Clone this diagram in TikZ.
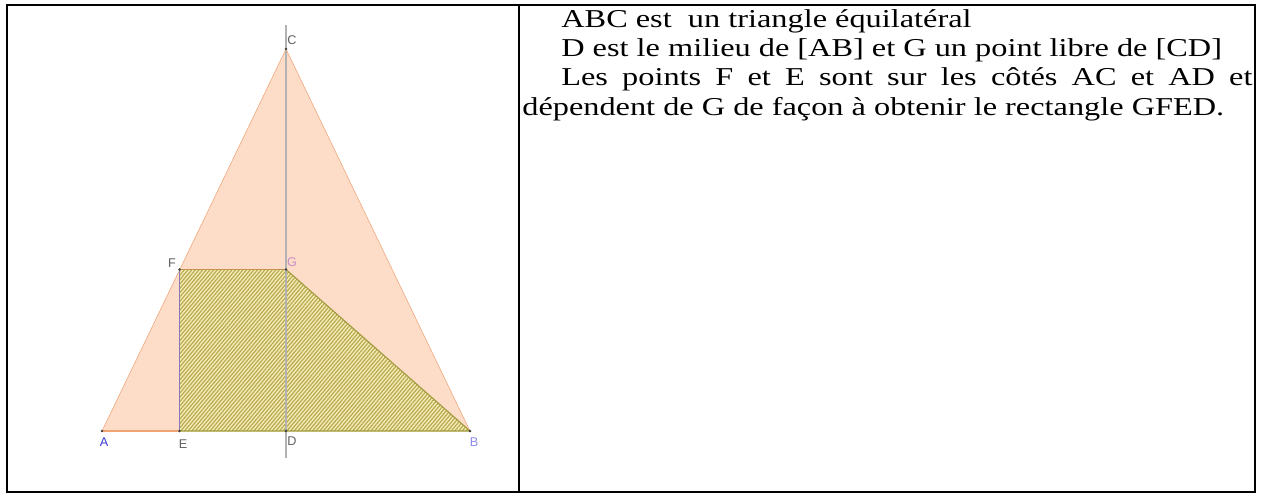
\documentclass[tikz,border=0pt]{standalone}
\usepackage{fontspec}
\setmainfont{Liberation Serif}
\setsansfont{Liberation Sans}
\usetikzlibrary{patterns.meta}

\definecolor{peach}{HTML}{FDDCC8}
\definecolor{edgeorange}{HTML}{F0A474}
\definecolor{hatchfill}{HTML}{F4EDB8}
\definecolor{hatchline}{HTML}{B8A84E}
\definecolor{olive}{HTML}{A09A3A}
\definecolor{edgebrown}{HTML}{C8904A}
\definecolor{edgeviolet}{HTML}{8878B8}
\definecolor{lblblue}{HTML}{3A3AC8}
\definecolor{lbllight}{HTML}{8C8CE0}
\definecolor{lblpink}{HTML}{C890C8}

\begin{document}
\begin{tikzpicture}[x=0.75pt,y=-0.75pt,
    lbl/.style={font=\sffamily\fontsize{9.5}{10}\selectfont,text=black!62,inner sep=0pt},
    frame/.style={line width=1.5pt}]
  \useasboundingbox (0,0) rectangle (1264,494);

  % figure points
  \coordinate (A) at (102,431);
  \coordinate (B) at (470,431);
  \coordinate (C) at (286,49);
  \coordinate (D) at (286,431);
  \coordinate (E) at (179.5,431);
  \coordinate (F) at (179.5,269.5);
  \coordinate (G) at (286,269.5);
  \coordinate (top) at (286,25);
  \coordinate (bot) at (286,458);

  \fill[peach] (A) -- (B) -- (C) -- cycle;
  \fill[hatchfill] (F) -- (G) -- (B) -- (E) -- cycle;
  \fill[pattern={Lines[angle=50,distance=2.1pt,line width=0.9pt]},pattern color=hatchline]
    (F) -- (G) -- (B) -- (E) -- cycle;

  \draw[black!30,line width=0.8pt] (top) -- (bot);
  \draw[edgeorange] (A) -- (C) -- (B);
  \draw[edgeorange,line width=0.8pt] (A) -- (E);
  \draw[olive,line width=0.8pt] (E) -- (B) -- (G);
  \draw[edgebrown,line width=0.8pt] (G) -- (F);
  \draw[edgeviolet,line width=0.8pt] (F) -- (E);
  \foreach \p in {A,B,C,D,E,F,G}
    \fill[black!75] (\p) circle (1.4);

  \node[lbl]            (lC) at (292,40)  {C};
  \node[lbl]            (lF) at (172,263) {F};
  \node[lbl,text=lblpink]  (lG) at (292,262) {G};
  \node[lbl,text=lblblue]  (lA) at (104,442) {A};
  \node[lbl]            (lE) at (183,444) {E};
  \node[lbl]            (lD) at (292,441) {D};
  \node[lbl,text=lbllight] (lB) at (474,442) {B};

  % table
  \draw[frame] (7,5) rectangle (1255,492);
  \draw[frame] (519,5) -- (519,492);

  \node[anchor=north west,inner sep=0pt,xscale=1.256,transform shape,
        text width=436pt,align=justify,font=\fontsize{19.3}{22}\selectfont]
        (texte) at (522,9)
  {\hspace*{23.3pt}ABC est\ \ un triangle équilatéral\par
   \hspace*{23.3pt}D est le milieu de [AB] et G un point libre de [CD]\par
   \hspace*{23.3pt}Les points F et E sont sur les côtés AC et AD et
   \mbox{dépendent} de G de façon à obtenir le rectangle GFED.};
\end{tikzpicture}
\end{document}
